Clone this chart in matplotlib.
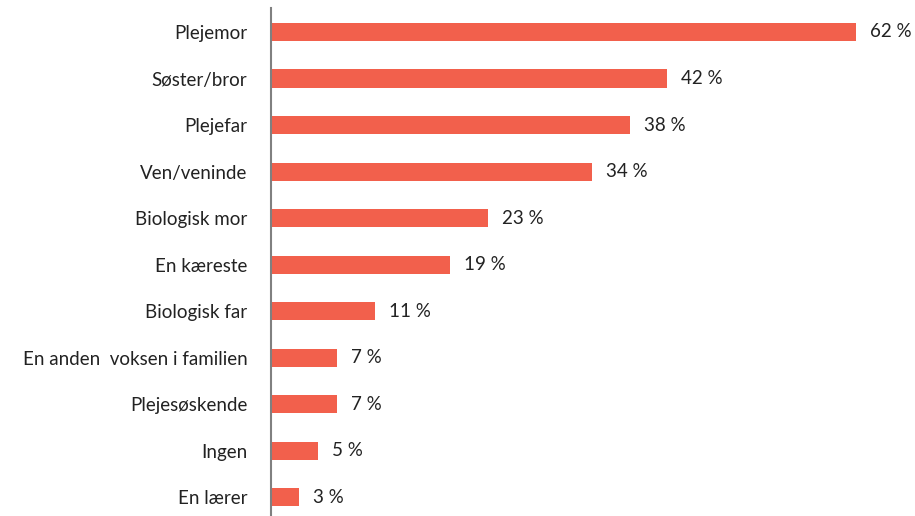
import matplotlib.pyplot as plt

categories = ["Plejemor", "Søster/bror", "Plejefar", "Ven/veninde", "Biologisk mor",
              "En kæreste", "Biologisk far", "En anden  voksen i familien",
              "Plejesøskende", "Ingen", "En lærer"]
values = [62, 42, 38, 34, 23, 19, 11, 7, 7, 5, 3]

plt.rcParams['font.family'] = ['Lato', 'DejaVu Sans']

fig = plt.figure(figsize=(9.15, 5.16), dpi=100)
ax = fig.add_axes([271/915, 0, 1 - 271/915, 1 - 8/516])

pos = list(range(len(categories)))
ax.barh(pos, values, height=0.39, color="#F2604C")
for p, v in zip(pos, values):
    ax.annotate(f"{v} %", (v, p), xytext=(14, 0), textcoords="offset pixels",
                va="center", ha="left", fontsize=13.5, color="#222222")

ax.set_xlim(0, 68.26)
ax.set_ylim(10.40, -0.515)
ax.set_yticks(pos)
ax.set_yticklabels(categories, fontsize=13.5, color="#222222")
ax.tick_params(axis="y", length=0, pad=17)
ax.set_xticks([])
for s in ["top", "right", "bottom"]:
    ax.spines[s].set_visible(False)
ax.spines["left"].set_color("#808080")
ax.spines["left"].set_linewidth(1.5)

fig.savefig("out.png", dpi=100)
